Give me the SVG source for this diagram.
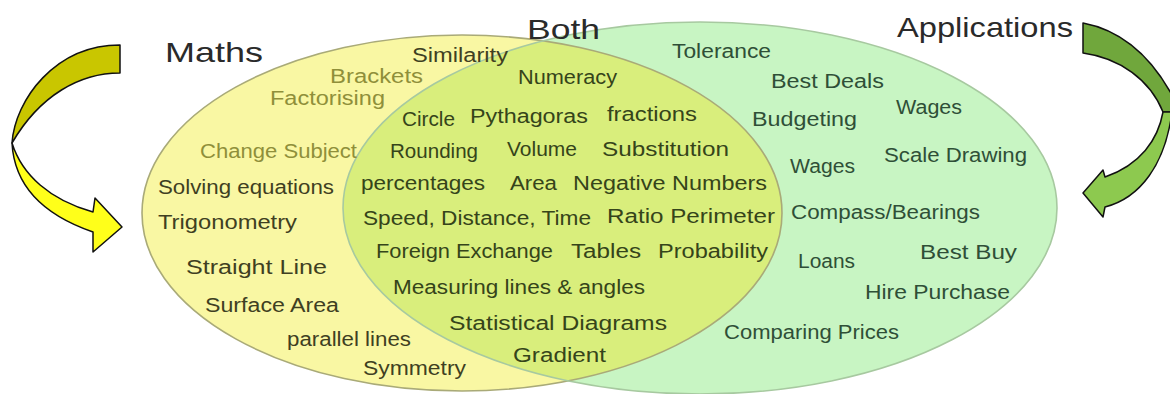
<svg xmlns="http://www.w3.org/2000/svg" width="1170" height="394" viewBox="0 0 1170 394">
<style>
text{font-family:"Liberation Sans","Open Sans",sans-serif;font-size:20px}
.title{font-size:28px;fill:#2a2a2a}
.m{fill:#3f3f22}
.f{fill:#8f8f3a}
.o{fill:#35441a}
.g{fill:#2f4f37}
.arr{stroke:#111;stroke-width:1.5;stroke-linejoin:round}
</style>
<defs>
<clipPath id="gclip"><ellipse cx="700" cy="208" rx="357" ry="186"/></clipPath>
</defs>
<g id="maths-set"><ellipse cx="462" cy="213" rx="320" ry="178" fill="#f9f7a3"/></g>
<g id="applications-set"><ellipse cx="700" cy="208" rx="357" ry="186" fill="#c8f5c3"/></g>
<g id="both-set"><ellipse cx="462" cy="213" rx="320" ry="178" fill="#d9ee7c" clip-path="url(#gclip)"/></g>
<g id="outlines" fill="none">
<ellipse cx="462" cy="213" rx="320" ry="178" stroke="#a9aa78" stroke-width="1.6"/>
<ellipse cx="700" cy="208" rx="357" ry="186" stroke="#a7c9a0" stroke-width="1.6"/>
</g>
<g id="connectors">
<g id="left-arrow" class="arr">
<path d="M120,45 L120,73 C80,73 40,95 12,143 C15,100 55,45 120,45 Z" fill="#c9c600"/>
<path d="M12,143 C14,180 35,212 93,232 L93,252 L122,227 L95,198 L93,212 C50,200 22,175 12,143 Z" fill="#ffff1a"/>
</g>
<g id="right-arrow" class="arr">
<path d="M1083,23 L1083,53 C1120,58 1150,80 1163,112 L1172,112 L1172,95 C1150,55 1120,30 1083,23 Z" fill="#70a73c"/>
<path d="M1163,112 C1158,140 1140,165 1105,177 L1103,170 L1083,193 L1103,217 L1105,207 C1140,198 1165,165 1172,112 Z" fill="#8dc94f"/>
</g>
</g>
<g id="titles">
<text class="title" x="165" y="62" textLength="98" lengthAdjust="spacingAndGlyphs">Maths</text>
<text class="title" x="527" y="39" textLength="73" lengthAdjust="spacingAndGlyphs">Both</text>
<text class="title" x="897" y="37" textLength="176" lengthAdjust="spacingAndGlyphs">Applications</text>
</g>
<g id="maths-items">
<text class="m" x="412" y="62" textLength="96" lengthAdjust="spacingAndGlyphs">Similarity</text>
<text class="f" x="330" y="83" textLength="93" lengthAdjust="spacingAndGlyphs">Brackets</text>
<text class="f" x="270" y="105" textLength="115" lengthAdjust="spacingAndGlyphs">Factorising</text>
<text class="f" x="200" y="158" textLength="157" lengthAdjust="spacingAndGlyphs">Change Subject</text>
<text class="m" x="158" y="194" textLength="176" lengthAdjust="spacingAndGlyphs">Solving equations</text>
<text class="m" x="158" y="229" textLength="139" lengthAdjust="spacingAndGlyphs">Trigonometry</text>
<text class="m" x="186" y="274" textLength="141" lengthAdjust="spacingAndGlyphs">Straight Line</text>
<text class="m" x="205" y="312" textLength="134" lengthAdjust="spacingAndGlyphs">Surface Area</text>
<text class="m" x="287" y="346" textLength="124" lengthAdjust="spacingAndGlyphs">parallel lines</text>
<text class="m" x="363" y="375" textLength="103" lengthAdjust="spacingAndGlyphs">Symmetry</text>
</g>
<g id="both-items">
<text class="o" x="518" y="84" textLength="99" lengthAdjust="spacingAndGlyphs">Numeracy</text>
<text class="o" x="402" y="126" textLength="53" lengthAdjust="spacingAndGlyphs">Circle</text>
<text class="o" x="470" y="123" textLength="118" lengthAdjust="spacingAndGlyphs">Pythagoras</text>
<text class="o" x="607" y="121" textLength="90" lengthAdjust="spacingAndGlyphs">fractions</text>
<text class="o" x="390" y="158" textLength="88" lengthAdjust="spacingAndGlyphs">Rounding</text>
<text class="o" x="507" y="156" textLength="70" lengthAdjust="spacingAndGlyphs">Volume</text>
<text class="o" x="602" y="156" textLength="127" lengthAdjust="spacingAndGlyphs">Substitution</text>
<text class="o" x="361" y="190" textLength="124" lengthAdjust="spacingAndGlyphs">percentages</text>
<text class="o" x="510" y="190" textLength="47" lengthAdjust="spacingAndGlyphs">Area</text>
<text class="o" x="573" y="190" textLength="194" lengthAdjust="spacingAndGlyphs">Negative Numbers</text>
<text class="o" x="363" y="225" textLength="228" lengthAdjust="spacingAndGlyphs">Speed, Distance, Time</text>
<text class="o" x="607" y="223" textLength="168" lengthAdjust="spacingAndGlyphs">Ratio Perimeter</text>
<text class="o" x="376" y="258" textLength="177" lengthAdjust="spacingAndGlyphs">Foreign Exchange</text>
<text class="o" x="571" y="258" textLength="70" lengthAdjust="spacingAndGlyphs">Tables</text>
<text class="o" x="658" y="258" textLength="110" lengthAdjust="spacingAndGlyphs">Probability</text>
<text class="o" x="393" y="294" textLength="252" lengthAdjust="spacingAndGlyphs">Measuring lines &amp; angles</text>
<text class="o" x="449" y="330" textLength="218" lengthAdjust="spacingAndGlyphs">Statistical Diagrams</text>
<text class="o" x="513" y="362" textLength="93" lengthAdjust="spacingAndGlyphs">Gradient</text>
</g>
<g id="applications-items">
<text class="g" x="672" y="58" textLength="99" lengthAdjust="spacingAndGlyphs">Tolerance</text>
<text class="g" x="771" y="88" textLength="113" lengthAdjust="spacingAndGlyphs">Best Deals</text>
<text class="g" x="896" y="114" textLength="66" lengthAdjust="spacingAndGlyphs">Wages</text>
<text class="g" x="752" y="126" textLength="105" lengthAdjust="spacingAndGlyphs">Budgeting</text>
<text class="g" x="884" y="162" textLength="143" lengthAdjust="spacingAndGlyphs">Scale Drawing</text>
<text class="g" x="790" y="173" textLength="65" lengthAdjust="spacingAndGlyphs">Wages</text>
<text class="g" x="791" y="219" textLength="189" lengthAdjust="spacingAndGlyphs">Compass/Bearings</text>
<text class="g" x="798" y="268" textLength="57" lengthAdjust="spacingAndGlyphs">Loans</text>
<text class="g" x="920" y="259" textLength="97" lengthAdjust="spacingAndGlyphs">Best Buy</text>
<text class="g" x="865" y="299" textLength="145" lengthAdjust="spacingAndGlyphs">Hire Purchase</text>
<text class="g" x="724" y="339" textLength="175" lengthAdjust="spacingAndGlyphs">Comparing Prices</text>
</g>
</svg>
